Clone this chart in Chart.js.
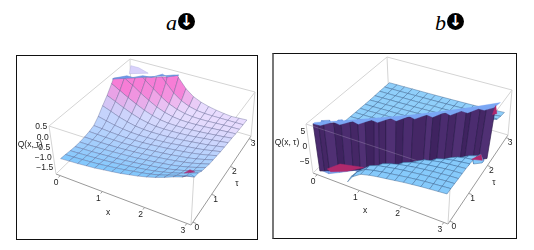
<!DOCTYPE html>
<html>
<head>
<meta charset="utf-8">
<script src="https://cdn.jsdelivr.net/npm/chart.js@4"></script>
<style>
  html, body { margin: 0; padding: 0; background: #fff; }
  body { width: 534px; height: 250px; position: relative; overflow: hidden; }
  .frame { position: absolute; box-sizing: border-box; border: 1px solid #111; }
  .frame canvas { position: absolute; left: 0; top: 0; filter: blur(0.35px); }
  #frameA { left: 16px; top: 55px; width: 242px; height: 185px; }
  #frameB { left: 272px; top: 53px; width: 245px; height: 186px; border-left: 2px solid #777; }
  .title { position: absolute; top: 9px; font: italic 22px "Liberation Serif", serif; line-height: 28px; }
  .title i { position: absolute; left: 12px; top: 4px; width: 17px; height: 17px; border-radius: 9px; background: #000;
    color: #fff; font: bold 15px/16px "DejaVu Sans", sans-serif; text-align: center; }
</style>
</head>
<body>
<div class="title" style="left:166px">a<i>↓</i></div>
<div class="title" style="left:435px">b<i>↓</i></div>
<div class="frame" id="frameA"><canvas id="chartA"></canvas></div>
<div class="frame" id="frameB"><canvas id="chartB"></canvas></div>
<script>
const xGrid = [0, 0.2, 0.4, 0.6, 0.8, 1, 1.2, 1.4, 1.6, 1.8, 2, 2.2, 2.4, 2.6, 2.8, 3];
const tauGrid = [0, 0.2, 0.4, 0.6, 0.8, 1, 1.2, 1.4, 1.6, 1.8, 2, 2.2, 2.4, 2.6, 2.8, 3];
const xTicks = [0, 1, 2, 3];
const tauTicks = [0, 1, 2, 3];
const zTicksA = ['0.5', '0.0', '−0.5', '−1.0', '−1.5'];
const zValsA = [0.5, 0, -0.5, -1, -1.5];
const zTicksB = ['5', '0', '−5'];
const zValsB = [5, 0, -5];

// rows are tau, columns are x
const qA = [
  [-1.08,-1.05,-1.02,-.98,-.94,-.88,-.82,-.76,-.68,-.6,-.5,-.38,-.24,-.08,.05,.3],
  [-1.1,-1.08,-1.05,-1.02,-.98,-.93,-.88,-.82,-.75,-.68,-.6,-.5,-.37,-.24,-.14,-.05],
  [-1.13,-1.11,-1.08,-1.05,-1.02,-.98,-.93,-.88,-.82,-.76,-.69,-.6,-.5,-.38,-.24,-.1],
  [-1.15,-1.13,-1.11,-1.08,-1.05,-1.02,-.98,-.93,-.88,-.82,-.76,-.69,-.6,-.5,-.38,-.25],
  [-1.15,-1.14,-1.12,-1.1,-1.07,-1.04,-1.01,-.97,-.92,-.87,-.81,-.75,-.67,-.58,-.46,-.33],
  [-1.12,-1.12,-1.12,-1.11,-1.09,-1.06,-1.03,-.99,-.95,-.9,-.85,-.79,-.72,-.64,-.53,-.42],
  [-1.07,-1.08,-1.09,-1.09,-1.09,-1.07,-1.05,-1.01,-.97,-.93,-.88,-.82,-.76,-.68,-.58,-.47],
  [-.99,-1.02,-1.05,-1.07,-1.08,-1.07,-1.05,-1.02,-.98,-.94,-.89,-.84,-.78,-.71,-.62,-.52],
  [-.75,-.85,-.94,-1,-1.04,-1.05,-1.04,-1.02,-.99,-.95,-.9,-.85,-.8,-.74,-.66,-.58],
  [-.42,-.58,-.75,-.87,-.96,-1,-1.01,-1,-.98,-.95,-.91,-.86,-.81,-.76,-.69,-.62],
  [-.1,-.3,-.5,-.68,-.82,-.91,-.96,-.97,-.96,-.94,-.91,-.87,-.82,-.77,-.72,-.66],
  [.3,.05,-.2,-.42,-.62,-.77,-.87,-.92,-.93,-.92,-.9,-.87,-.83,-.79,-.75,-.7],
  [.75,.5,.22,-.08,-.34,-.57,-.73,-.83,-.88,-.89,-.88,-.86,-.83,-.8,-.77,-.75],
  [1.3,1,.72,.38,.04,-.28,-.53,-.7,-.8,-.85,-.86,-.85,-.83,-.81,-.8,-.79],
  [2,1.7,1.4,1.1,.72,.25,-.2,-.5,-.68,-.78,-.82,-.83,-.83,-.83,-.83,-.83],
  [3,2.7,2.4,2.1,1.8,1.3,.4,-.1,-.42,-.6,-.72,-.8,-.86,-.9,-.88,-.86]
];
const qB = [
  [-14,-13,-12,-9.6,-6,-4.2,-3.5,-3,-2.6,-2.2,-1.8,-1.5,-1.2,-1,-.8,-.6],
  [4.7,12,-12,-9,-6,-4.2,-3.5,-3,-2.6,-2.2,-1.8,-1.5,-1.2,-1,-.8,-.6],
  [1.7,3.4,9.4,-12,-6.8,-4.5,-3.5,-3,-2.5,-2.1,-1.8,-1.5,-1.2,-1,-.8,-.7],
  [.7,1.3,2.5,5.8,12,-10,-4.5,-3.5,-2.8,-2.3,-1.9,-1.6,-1.3,-1.1,-.9,-.8],
  [.2,.5,1,2,4,12,-12,-5.8,-3.8,-2.8,-2.2,-1.8,-1.5,-1.2,-1,-.9],
  [-.1,.1,.4,.8,1.5,3,7.5,-12,-7.9,-4.1,-2.7,-2.1,-1.6,-1.4,-1.2,-1],
  [-.3,-.2,0,.3,.6,1.2,2.3,4.9,12,-12,-5,-3.1,-2.3,-1.8,-1.5,-1.2],
  [-.4,-.3,-.2,-.1,.2,.5,.9,1.8,3.5,10,-12,-6.5,-3.7,-2.5,-1.9,-1.6],
  [-.5,-.5,-.4,-.3,-.1,.1,.3,.7,1.4,2.6,6.2,12,-9.4,-4.4,-2.9,-2.1],
  [-.6,-.6,-.5,-.4,-.3,-.2,0,.2,.6,1.1,2,4.3,12,-12,-5.6,-3.3],
  [-.7,-.7,-.6,-.5,-.5,-.4,-.2,-.1,.1,.4,.8,1.6,3.1,8,-12,-7.5],
  [-.8,-.7,-.7,-.6,-.6,-.5,-.4,-.3,-.2,0,.3,.6,1.2,2.4,5.2,12],
  [-.8,-.8,-.7,-.7,-.6,-.6,-.5,-.4,-.3,-.2,-.1,.2,.5,1,1.8,3.7],
  [-.8,-.8,-.8,-.7,-.7,-.7,-.6,-.5,-.5,-.4,-.3,-.1,.1,.3,.7,1.4],
  [-.87,-.85,-.82,-.79,-.76,-.72,-.68,-.63,-.57,-.5,-.42,-.31,-.18,-.01,.23,.58],
  [-.9,-.88,-.85,-.83,-.8,-.77,-.74,-.7,-.65,-.6,-.54,-.47,-.38,-.27,-.12,.06]
];

// the wall in b, where Q jumps from top to bottom of the box
const wallX = [0,.08,.16,.32,.43,.57,.69,.81,.95,1.03,1.14,1.31,1.43,1.59,1.81,1.92,2.05,2.19,2.32,2.49,2.57,2.73,2.84,3];
const wallTauTop = [0,.07,.13,.26,.35,.47,.57,.66,.78,.84,.93,1.07,1.17,1.3,1.48,1.57,1.68,1.8,1.9,2.04,2.11,2.24,2.33,2.46];
const wallTauBottom = [.02,.08,.14,.25,.33,.43,.52,.6,.7,.76,.84,.96,1.05,1.16,1.32,1.4,1.5,1.6,1.69,1.81,1.87,1.99,2.06,2.18];

// clip caps, [x, tau, Q]
const capBlueA = [[0.02,2.3,.5],[.2,2.5,.5],[.35,2.5,.5],[.5,2.66,.5],[.7,2.68,.5],[.85,2.9,.5],[1,2.85,.5],[1.2,3.02,.5],[1.1,2.98,.5],[.8,2.78,.5],[.4,2.52,.5],[0,2.24,.5]];
const capPaleA = [[.2,2.6,.5],[.05,2.9,.5],[.25,2.9,.5],[.55,2.8,.5]];
const capMagentaA = [[2.85,0,.27],[2.97,0,.5],[3.03,.12,.3],[2.98,.15,.22]];
const capBandB = [[0,.06,7.5],[.5,.5,7.5],[1,.92,7.5],[1.5,1.33,7.5],[2,1.74,7.5],[2.5,2.15,7.5],[3.05,2.6,7.5],
  [3,2.38,7.5],[2.84,2.2,7.5],[2.7,2.2,7.5],[2.55,1.96,7.5],[2.4,1.96,7.5],[2.25,1.72,7.5],[2.1,1.76,7.5],[1.95,1.48,7.5],[1.8,1.5,7.5],
  [1.65,1.24,7.5],[1.5,1.28,7.5],[1.35,.99,7.5],[1.2,1.02,7.5],[1.05,.74,7.5],[.9,.76,7.5],[.75,.48,7.5],[.6,.52,7.5],[.45,.26,7.5],[.3,.28,7.5],[.15,.02,7.5],[0,0,7.5]];
const capLeftB = [[.09,.17,-8.4],[.23,.47,-8.4],[.71,.63,-8.4],[.48,.33,-8.4],[.2,.12,-8.4]];
const capRightB = [[2.69,2.01,-8.4],[2.82,2.24,-8.4],[2.93,2.08,-8.4]];
const capTopB = [[3,2.46,7.5],[3,2.31,5.7],[3,2.56,3.7]];
const wallShades = ['#4b2c6f', '#452766', '#503074', '#3f2360'];

const panelA = {
  canvas: 'chartA', left: 16, top: 55, width: 240, height: 183,
  lo: [[55,173],[190,224],[250,135],[130,100]],
  hi: [[48,125],[193,172],[254,91],[129,58]],
  zRange: [-1.8, .55], clipLo: -1.8, clipHi: .5,
  q: qA, zVals: zValsA, zTicks: zTicksA,
  qLabel: [29,144], xLabel: [107,212], tauLabel: [236,183]
};
const panelB = {
  canvas: 'chartB', left: 274, top: 54, width: 242, height: 184,
  lo: [[313,173],[448,224],[508,135],[389,100]],
  hi: [[306,124],[451,172],[512,90],[387,57]],
  zRange: [-8.7, 7.6], clipLo: -8.4, clipHi: 7.5,
  q: qB, zVals: zValsB, zTicks: zTicksB,
  qLabel: [287,143], xLabel: [365,211], tauLabel: [494,183]
};

const planRange = [-0.1, 3.1];

function mix(a, b, t) { return a + (b - a) * t; }
function clamp01(v) { return Math.max(0, Math.min(1, v)); }

function project(p, x, tau, z) {
  const u = (x - planRange[0]) / (planRange[1] - planRange[0]);
  const v = (tau - planRange[0]) / (planRange[1] - planRange[0]);
  const w = (z - p.zRange[0]) / (p.zRange[1] - p.zRange[0]);
  const corner = (c, k) => mix(mix(c[0][k], c[1][k], u), mix(c[3][k], c[2][k], u), v);
  return { x: mix(corner(p.lo, 0), corner(p.hi, 0), w), y: mix(corner(p.lo, 1), corner(p.hi, 1), w) };
}

// cut a polygon at a flat z level, keep the side sign says
function cutAt(pts, level, sign) {
  const out = [];
  for (let i = 0; i < pts.length; i++) {
    const a = pts[i], b = pts[(i + 1) % pts.length];
    const ina = (a[2] - level) * sign >= 0, inb = (b[2] - level) * sign >= 0;
    if (ina) out.push(a);
    if (ina !== inb) {
      const t = (level - a[2]) / (b[2] - a[2]);
      out.push([mix(a[0], b[0], t), mix(a[1], b[1], t), level]);
    }
  }
  return out;
}

function polygon(p, pts, fill, line, width) {
  const data = pts.map(q => project(p, q[0], q[1], q[2]));
  data.push(data[0]);
  return { data, showLine: true, pointRadius: 0, fill: 'shape', backgroundColor: fill, borderColor: line, borderWidth: width, tension: 0 };
}

function edge(p, a, b, color, width) {
  return { data: [project(p, a[0], a[1], a[2]), project(p, b[0], b[1], b[2])], showLine: true, pointRadius: 0, fill: false, borderColor: color, borderWidth: width };
}

function cellColorA(tau, z) {
  const t = clamp01(tau / 2.6);
  const pink = clamp01((z + 0.6) / 1.1) * clamp01((tau - 1.6) / 0.7);
  const r = mix(mix(128, 232, t), 247, pink), g = mix(mix(200, 220, t), 125, pink), b = mix(mix(252, 254, t), 214, pink);
  return `rgb(${r|0},${g|0},${b|0})`;
}

function boxEdges(p) {
  const [xa, xb] = planRange, [za, zb] = p.zRange;
  const soft = '#d4d4d4', hard = '#9a9a9a';
  const c = [[xa,xa],[xb,xa],[xb,xb],[xa,xb]];
  const out = [];
  for (let i = 0; i < 4; i++) {
    const n = c[(i + 1) % 4];
    out.push(edge(p, [c[i][0],c[i][1],zb], [n[0],n[1],zb], soft, 1));
    out.push(edge(p, [c[i][0],c[i][1],za], [c[i][0],c[i][1],zb], soft, 1));
    out.push(edge(p, [c[i][0],c[i][1],za], [n[0],n[1],za], i < 2 ? hard : soft, 1));
  }
  xTicks.forEach(t => out.push(edge(p, [t,xa,za], [t,xa - .08,za], hard, 1)));
  tauTicks.forEach(t => out.push(edge(p, [xb,t,za], [xb + .08,t,za], hard, 1)));
  return out;
}

function cellsOf(p) {
  const cells = [];
  for (let i = 0; i < tauGrid.length - 1; i++) {
    for (let j = 0; j < xGrid.length - 1; j++) {
      const pts = [
        [xGrid[j], tauGrid[i], p.q[i][j]],
        [xGrid[j+1], tauGrid[i], p.q[i][j+1]],
        [xGrid[j+1], tauGrid[i+1], p.q[i+1][j+1]],
        [xGrid[j], tauGrid[i+1], p.q[i+1][j]]
      ];
      cells.push({ pts, depth: xGrid[j] - tauGrid[i], zs: pts.map(q => q[2]),
        cx: (xGrid[j] + xGrid[j+1]) / 2, ct: (tauGrid[i] + tauGrid[i+1]) / 2 });
    }
  }
  return cells.sort((a, b) => a.depth - b.depth);
}

function surfaceA(p) {
  const out = [];
  cellsOf(p).forEach(c => {
    const cut = cutAt(cutAt(c.pts, p.clipHi, -1), p.clipLo, 1);
    if (cut.length < 3) return;
    // colour by the highest kept corner so the band under the clip stays even
    const top = Math.min(Math.max(...c.zs), p.clipHi);
    out.push(polygon(p, cut, cellColorA(c.ct, top), 'rgba(70,76,125,.55)', .6));
  });
  return out;
}

// back half, then the wall, then the front half over it
function surfaceB(p) {
  const back = [], front = [];
  cellsOf(p).forEach(c => {
    const cut = cutAt(cutAt(c.pts, p.clipHi, -1), p.clipLo, 1);
    if (cut.length < 3) return;
    const lo = Math.min(...c.zs), hi = Math.max(...c.zs);
    const jump = lo < -3 && hi > 3;
    if (jump || hi > 5) back.push(polygon(p, cut, '#7ba8f3', 'rgba(70,110,190,.7)', .5));
    else if (c.ct > 0.76 * c.cx) back.push(polygon(p, cut, '#90cffa', 'rgba(50,90,135,.7)', .6));
    else front.push(polygon(p, cut, '#86cafb', 'rgba(50,90,135,.7)', .6));
  });
  const wall = [];
  for (let k = 0; k < wallX.length - 1; k++) {
    wall.push(polygon(p, [
      [wallX[k], wallTauTop[k], p.clipHi],
      [wallX[k+1], wallTauTop[k+1], p.clipHi],
      [wallX[k+1], wallTauBottom[k+1], p.clipLo],
      [wallX[k], wallTauBottom[k], p.clipLo]
    ], wallShades[k % wallShades.length], '#2f1c4e', .7));
  }
  const [xa, xb] = planRange;
  const seam = edge(p, [xa,xa,p.zRange[1]], [xb,xa,p.zRange[1]], 'rgba(215,205,225,.3)', .8);
  return [...back, ...wall, seam, ...front];
}

const labelPlugin = {
  id: 'boxLabels',
  afterDraw(chart) {
    const p = chart.options.plugins.boxLabels.panel;
    const { ctx, scales } = chart;
    const [xa, xb] = planRange, za = p.zRange[0];
    const put = (txt, px, py, align) => {
      ctx.textAlign = align || 'center';
      ctx.fillText(txt, scales.x.getPixelForValue(px), scales.y.getPixelForValue(py));
    };
    ctx.save();
    ctx.fillStyle = '#222';
    ctx.textBaseline = 'middle';
    ctx.font = '8.5px "Liberation Sans", sans-serif';
    xTicks.forEach(t => { const q = project(p, t, xa, za); put(String(t), q.x - 4, q.y + 7); });
    tauTicks.forEach(t => { const q = project(p, xb, t, za); put(String(t), q.x + 4, q.y + 5); });
    p.zVals.forEach((z, i) => { const q = project(p, xa, xa, z); put(p.zTicks[i], q.x - 2, q.y, 'right'); });
    put('x', p.xLabel[0], p.xLabel[1]);
    put('τ', p.tauLabel[0], p.tauLabel[1]);
    put('Q(x, τ)', p.qLabel[0], p.qLabel[1]);
    ctx.restore();
  }
};

function drawPanel(p, layers) {
  const canvas = document.getElementById(p.canvas);
  canvas.width = p.width;
  canvas.height = p.height;
  // painter's order: chart.js paints the first dataset last
  const datasets = [...boxEdges(p), ...layers].reverse();
  new Chart(canvas, {
    type: 'scatter',
    data: { datasets },
    options: {
      responsive: false,
      animation: false,
      layout: { padding: 0 },
      clip: false,
      scales: {
        x: { type: 'linear', display: false, min: p.left, max: p.left + p.width },
        y: { type: 'linear', display: false, min: p.top, max: p.top + p.height, reverse: true }
      },
      plugins: { legend: { display: false }, tooltip: { enabled: false }, boxLabels: { panel: p } }
    },
    plugins: [labelPlugin]
  });
}

drawPanel(panelA, [
  polygon(panelA, capPaleA, '#d9d2fb', '#b9b4e6', .5),
  ...surfaceA(panelA),
  polygon(panelA, capBlueA, '#6f9bea', '#5b84d0', .5),
  polygon(panelA, capMagentaA, '#a8307a', '#a8307a', .5)
]);
drawPanel(panelB, [
  ...surfaceB(panelB),
  polygon(panelB, capBandB, '#7aa6f4', '#7aa6f4', .3),
  polygon(panelB, capLeftB, '#b0296c', '#b0296c', .5),
  polygon(panelB, capRightB, '#b0296c', '#b0296c', .5),
  polygon(panelB, capTopB, '#b0296c', '#b0296c', .5)
]);
</script>
</body>
</html>
